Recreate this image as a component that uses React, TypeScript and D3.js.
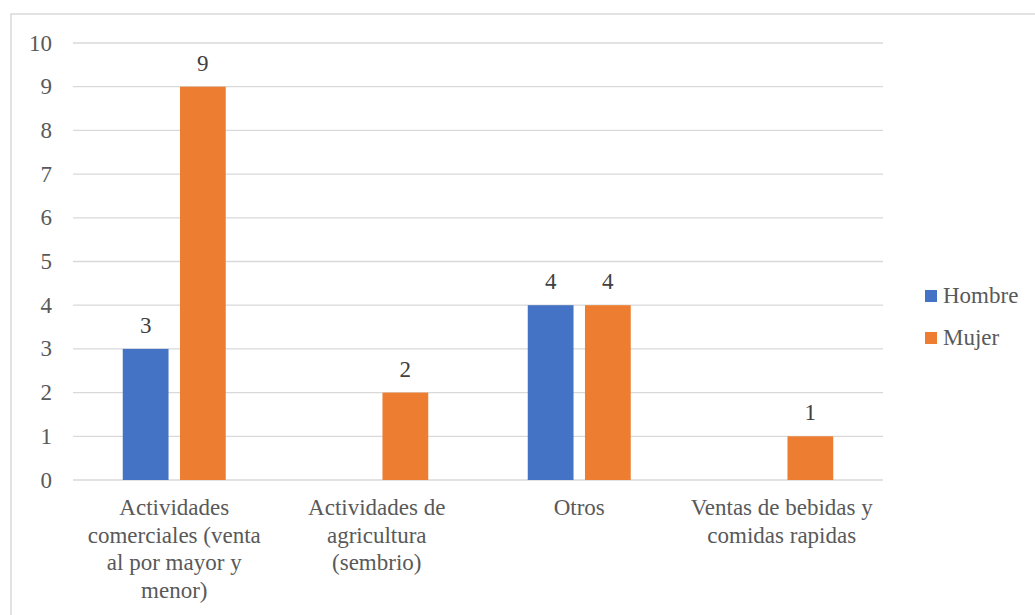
import * as d3 from "d3";

const categories = [
  "Actividades comerciales (venta al por mayor y menor)",
  "Actividades de agricultura (sembrio)",
  "Otros",
  "Ventas de bebidas y comidas rapidas",
];
const categoryLines = [
  ["Actividades", "comerciales (venta", "al por mayor y", "menor)"],
  ["Actividades de", "agricultura", "(sembrio)"],
  ["Otros"],
  ["Ventas de bebidas y", "comidas rapidas"],
];
const seriesNames = ["Hombre", "Mujer"];
const hombre: (number | null)[] = [3, null, 4, null];
const mujer: (number | null)[] = [9, 2, 4, 1];
const yTicks = [0, 1, 2, 3, 4, 5, 6, 7, 8, 9, 10];
const colors = ["#4472C4", "#ED7D31"];

const width = 1035;
const height = 615;
const marginLeft = 73;
const marginRight = 152;
const marginTop = 43;
const plotBottom = 480;
const font = '"Liberation Serif", "Tinos", "Times New Roman", "DejaVu Serif", serif';
const textColor = "#595959";

export default function App() {
  const x = d3
    .scaleBand<string>()
    .domain(categories)
    .range([marginLeft, width - marginRight]);

  const bw = x.bandwidth();
  const x1 = d3
    .scaleBand<string>()
    .domain(seriesNames)
    .range([bw / 2 - 51.5, bw / 2 + 51.5])
    .paddingInner(0.2);

  const y = d3.scaleLinear().domain([0, 10]).range([plotBottom, marginTop]);

  const series = [hombre, mujer];
  const txt = { fontFamily: font, fontSize: "23px" };

  return (
    <svg
      width={width}
      height={height}
      style={{ position: "absolute", left: 0, top: 0, background: "#fff", fontFamily: font }}
    >
      <rect x={11} y={14} width={width + 10} height={height + 10} fill="#fff" stroke="#d9d9d9" strokeWidth={1.5} />

      {/* gridlines + y labels */}
      {yTicks.map((t) => (
        <g key={t}>
          <line
            x1={marginLeft}
            x2={width - marginRight}
            y1={y(t)}
            y2={y(t)}
            stroke="#d9d9d9"
            strokeWidth={1.3}
          />
          <text
            x={52}
            y={y(t)}
            textAnchor="end"
            dominantBaseline="central"
            style={txt}
            fill={textColor}
          >
            {t}
          </text>
        </g>
      ))}

      {/* bars */}
      {series.map((vals, si) =>
        vals.map((v, ci) =>
          v == null ? null : (
            <g key={`${si}-${ci}`}>
              <rect
                x={(x(categories[ci]) ?? 0) + (x1(seriesNames[si]) ?? 0)}
                y={y(v)}
                width={x1.bandwidth()}
                height={y(0) - y(v)}
                fill={colors[si]}
              />
              <text
                x={(x(categories[ci]) ?? 0) + (x1(seriesNames[si]) ?? 0) + x1.bandwidth() / 2}
                y={y(v) - 16}
                textAnchor="middle"
                style={txt}
                fill="#404040"
              >
                {v}
              </text>
            </g>
          )
        )
      )}

      {/* category labels */}
      {categories.map((c, i) => (
        <text
          key={c}
          x={(x(c) ?? 0) + bw / 2}
          y={515}
          textAnchor="middle"
          style={txt}
          fill={textColor}
        >
          {categoryLines[i].map((l, j) => (
            <tspan key={j} x={(x(c) ?? 0) + bw / 2} y={515 + j * 27.7}>
              {l}
            </tspan>
          ))}
        </text>
      ))}

      {/* legend */}
      {seriesNames.map((s, i) => (
        <g key={s} transform={`translate(925,${290 + i * 42})`}>
          <rect width={12} height={12} fill={colors[i]} />
          <text x={18} y={13} style={txt} fill={textColor}>
            {s}
          </text>
        </g>
      ))}
    </svg>
  );
}
